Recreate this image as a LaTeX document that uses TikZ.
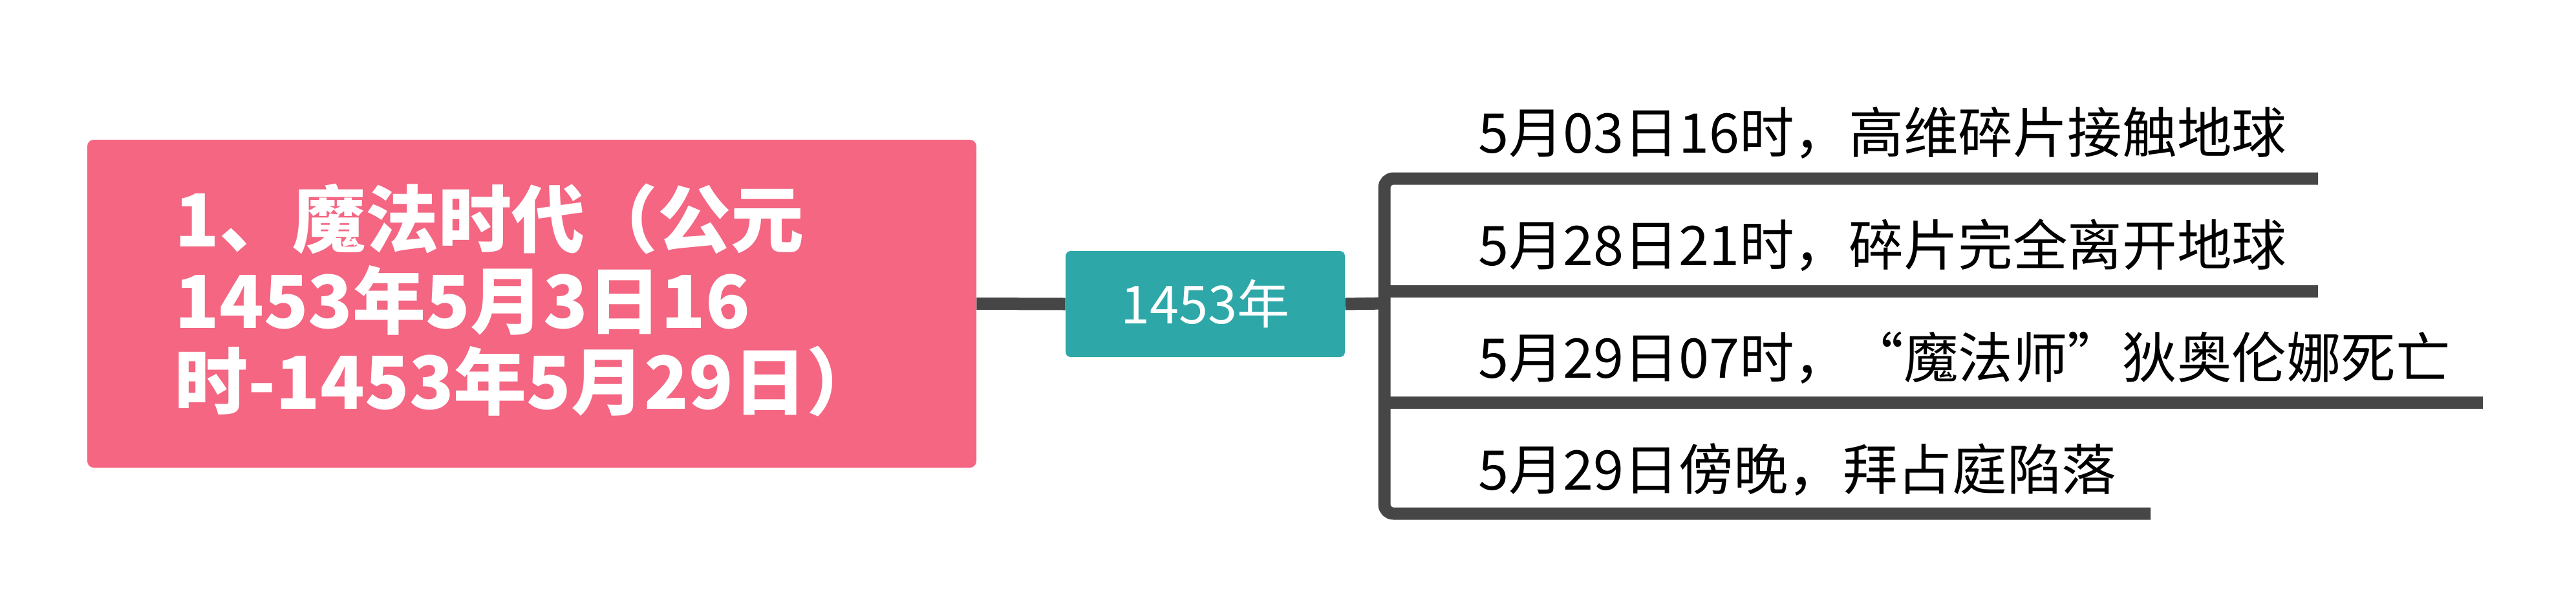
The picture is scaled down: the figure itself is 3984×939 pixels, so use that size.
\documentclass[tikz,border=0pt]{standalone}
\usepackage{fontspec}
\newfontfamily\sanscjk{Noto Sans CJK SC}
\definecolor{pinkc}{HTML}{F46682}
\definecolor{tealc}{HTML}{2EA7A8}
\definecolor{linec}{HTML}{464646}
\tikzset{
  px/.style={x=0.5pt,y=-0.5pt},
  conn/.style={draw=linec,line width=9.5pt,line cap=butt},
  erabox/.style={fill=pinkc,rounded corners=5pt,minimum width=687.5pt,minimum height=253.5pt,inner sep=0pt},
  eratext/.style={anchor=base west,inner sep=0pt,text=white,font=\sanscjk\bfseries\fontsize{56.5pt}{63pt}\selectfont},
  yrbox/.style={fill=tealc,rounded corners=4pt,minimum width=216pt,minimum height=82pt,inner sep=0pt,text=white,font=\sanscjk\fontsize{40.5pt}{45pt}\selectfont},
  evtext/.style={anchor=base west,inner sep=0pt,text=black,font=\sanscjk\fontsize{42.3pt}{50pt}\selectfont},
}
\begin{document}
\begin{tikzpicture}[px]
\useasboundingbox (0,0) rectangle (3984,939);
\node[erabox] (era) at (822.5,469.5) {};
\node[eratext] (p1) at (270,381) {1、魔法时代（公元};
\node[eratext] (p2) at (270,507) {1453年5月3日16};
\node[eratext] (p3) at (270,632) {时-1453年5月29日）};
\node[yrbox] (yr) at (1864,470) {1453年};
\coordinate (hub) at (2141,469);
\coordinate (b1s) at (2141,276); \coordinate (b1e) at (3585,276);
\coordinate (b2s) at (2141,450); \coordinate (b2e) at (3585,450);
\coordinate (b3s) at (2141,622); \coordinate (b3e) at (3840,622);
\coordinate (b4s) at (2141,794); \coordinate (b4e) at (3326,794);
\draw[conn] (era.east) -- (yr.west);
\draw[conn] (yr.east) -- (hub);
\draw[conn,rounded corners=7pt] (b1e) -- (b1s) -- (b4s) -- (b4e);
\draw[conn] (b2s) -- (b2e);
\draw[conn] (b3s) -- (b3e);
\node[evtext] (e1) at (2286,236) {5月03日16时，高维碎片接触地球};
\node[evtext] (e2) at (2286,410) {5月28日21时，碎片完全离开地球};
\node[evtext] (e3) at (2286,584) {5月29日07时，“魔法师”狄奥伦娜死亡};
\node[evtext] (e4) at (2286,757) {5月29日傍晚，拜占庭陷落};
\end{tikzpicture}
\end{document}
